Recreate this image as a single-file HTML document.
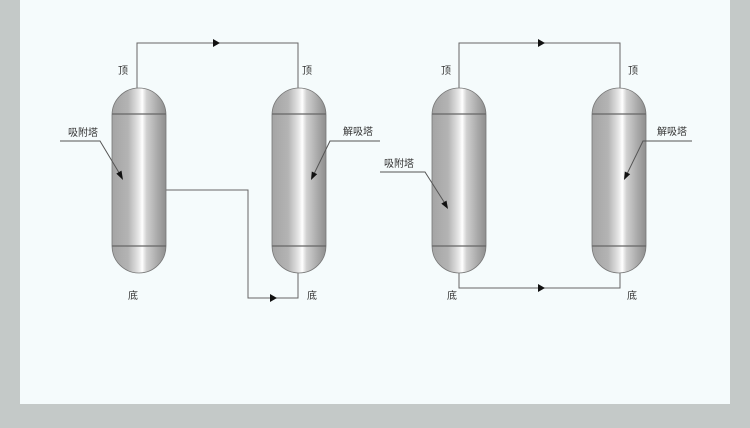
<!DOCTYPE html>
<html><head><meta charset="utf-8"><style>
html,body{margin:0;padding:0;background:#c4c9c8;}
svg{display:block}
text{font-family:"Liberation Sans","Noto Sans CJK SC",sans-serif;font-size:10px;fill:#333;}
</style></head><body>
<svg width="750" height="428" viewBox="0 0 750 428" xmlns="http://www.w3.org/2000/svg">
<defs>
<linearGradient id="g" x1="0" y1="0" x2="1" y2="0">
<stop offset="0" stop-color="#a4a4a4"/>
<stop offset="0.3" stop-color="#b4b4b4"/>
<stop offset="0.5" stop-color="#e8e8e8"/>
<stop offset="0.56" stop-color="#ffffff"/>
<stop offset="0.64" stop-color="#d0d0d0"/>
<stop offset="0.85" stop-color="#a8a8a8"/>
<stop offset="1" stop-color="#8e8e8e"/>
</linearGradient>
<g id="v">
<path d="M0,27 A27,27 0 0 1 54,27 L54,158 A27,27 0 0 1 0,158 Z" fill="url(#g)" stroke="#777" stroke-width="0.8"/>
<line x1="0" y1="26" x2="54" y2="26" stroke="#666" stroke-width="1.2"/>
<line x1="0" y1="158" x2="54" y2="158" stroke="#666" stroke-width="1.2"/>
</g>
</defs>
<rect x="0" y="0" width="750" height="428" fill="#c4c9c8"/>
<rect x="20" y="0" width="710" height="404" fill="#f5fbfc"/>
<g fill="none" stroke="#666" stroke-width="1">
<polyline points="137,88 137,43 298,43 298,88"/>
<polyline points="166,190 248,190 248,298 298,298 298,273"/>
<polyline points="459,88 459,43 620,43 620,88"/>
<polyline points="459,273 459,288 620,288 620,273"/>
</g>
<use href="#v" x="112" y="88"/>
<use href="#v" x="272" y="88"/>
<use href="#v" x="432" y="88"/>
<use href="#v" x="592" y="88"/>
<g fill="none" stroke="#555" stroke-width="1">
<polyline points="60,141 100,141 121,176"/>
<polyline points="380,141 330,141 313,176"/>
<polyline points="380,172 425,172 446,205"/>
<polyline points="692,141 643,141 626,176"/>
</g>
<g fill="#111">
<polygon points="220,43 213,39 213,47"/>
<polygon points="277,298 270,294 270,302"/>
<polygon points="545,43 538,39 538,47"/>
<polygon points="545,288 538,284 538,292"/>
<polygon points="123,180 116.3,173.6 121.5,170.6"/>
<polygon points="311,180 317.2,174.1 311.8,171.5"/>
<polygon points="448,209 441.3,203.6 446.5,200.6"/>
<polygon points="624,180 630.2,174.1 624.8,171.5"/>
</g>
<text x="118" y="74">顶</text>
<text x="302" y="74">顶</text>
<text x="128" y="299">底</text>
<text x="307" y="299">底</text>
<text x="68" y="136">吸附塔</text>
<text x="343" y="135">解吸塔</text>
<text x="441" y="74">顶</text>
<text x="628" y="74">顶</text>
<text x="447" y="299">底</text>
<text x="627" y="299">底</text>
<text x="384" y="167">吸附塔</text>
<text x="657" y="135">解吸塔</text>
</svg>
</body></html>
